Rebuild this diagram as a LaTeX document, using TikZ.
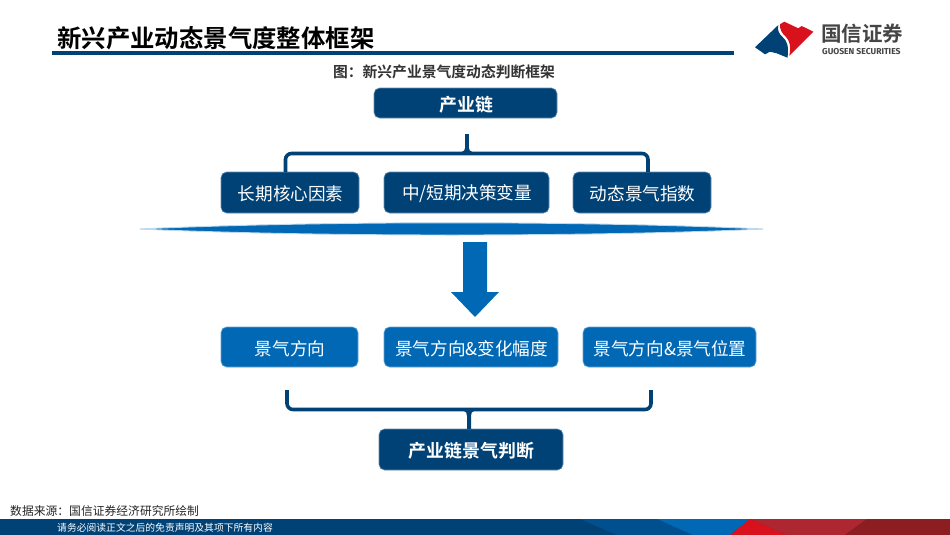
\documentclass[tikz,border=0pt]{standalone}
\usepackage{fontspec}
\setmainfont{Noto Sans CJK SC}[BoldFont={Noto Sans CJK SC Bold}]
\newfontfamily\logofont{Fira Sans}
\definecolor{navy}{HTML}{004276}
\definecolor{midblue}{HTML}{0068B5}
\definecolor{shadeblue}{HTML}{00508F}
\definecolor{logored}{HTML}{D9111C}
\definecolor{rosered}{HTML}{AE2630}
\definecolor{darkred}{HTML}{8C1E22}
\definecolor{logogray}{HTML}{454545}
\tikzset{
  px/.style={x=1pt,y=-1pt},
  boxbase/.style={rounded corners=5.5pt,text=white,inner sep=0pt,font=\fontsize{17.6pt}{20pt}\selectfont,draw=#1!60!white,line width=.6pt,fill=#1},
  navybox/.style={boxbase=navy},
  bluebox/.style={boxbase=midblue},
  boldtext/.style={font=\bfseries\fontsize{17.9pt}{20pt}\selectfont},
  brace/.style={draw=navy,line width=3.6pt,rounded corners=6pt},
  plain/.style={inner sep=0pt,anchor=west}
}
\newcommand{\bx}[7]{\node[#1,minimum width=#5pt-#4pt,minimum height=#7pt-#6pt] (#2) at ({(#4+#5)/2},{(#6+#7)/2}) {};
  \node[#1,text=white,inner sep=0pt,draw=none,fill=none,minimum width=0pt,minimum height=0pt] (#2t) at ({(#4+#5)/2+.6},{(#6+#7)/2+1.6}) {#3};}
\begin{document}
\begin{tikzpicture}[px]
\useasboundingbox (0,0) rectangle (950,535);
\fill[white] (0,0) rectangle (950,535);
% title
\node[plain,font=\bfseries\fontsize{24.4pt}{26pt}\selectfont,text=black] (title) at (57,38) {新兴产业动态景气度整体框架};
\fill[navy] (52,51) rectangle (734,55);
% logo
\fill[navy] (755,47.3) -- (778.3,25) .. controls (777,30) and (779,34) .. (783,37.5) .. controls (787,41) and (789,46) .. (787.5,57.7) -- (776.7,53.3) -- (770,51.7) -- (765,54.3) -- cycle;
\fill[logored] (780,24.3) -- (784.3,21.7) -- (798.3,28.3) -- (801.7,26) -- (813.3,31.7) -- (789.3,55.7) .. controls (791,47) and (790,41) .. (786,37) .. controls (782,33.5) and (779.5,29) .. (780,24.3) -- cycle;
\node[inner sep=0pt,anchor=west,text=logogray,font=\bfseries\fontsize{20.5pt}{22pt}\selectfont] (logocn) at (821,34) {国信证券};
\node[inner sep=0pt,anchor=west,text=logogray,font=\logofont\bfseries\fontsize{8.6pt}{10pt}\selectfont] (logoen) at (822,51.5) {GUOSEN SECURITIES};
% caption
\node[font=\bfseries\fontsize{14.8pt}{16pt}\selectfont,text=black!80,inner sep=0pt] (cap) at (444,71.5) {图：新兴产业景气度动态判断框架};
% boxes
\bx{navybox,boldtext}{chain}{产业链}{374}{557}{88}{118}
\bx{navybox}{a1}{长期核心因素}{221}{359}{172}{213}
\bx{navybox}{a2}{中/短期决策变量}{384}{549}{172}{213}
\bx{navybox}{a3}{动态景气指数}{573}{711}{172}{213}
\bx{bluebox}{b1}{景气方向}{221}{358}{327}{367}
\bx{bluebox}{b2}{景气方向\&变化幅度}{384}{558}{327}{367}
\bx{bluebox}{b3}{景气方向\&景气位置}{583}{756}{327}{367}
\bx{navybox,boldtext}{judge}{产业链景气判断}{379}{563}{429}{470}
% top brace
\coordinate (tl) at (285.5,172);
\coordinate (tr) at (648,172);
\path[brace] (tl) -- (285.5,153.5) -- (648,153.5) -- (tr);
\fill[navy] (465.2,134) -- (468.8,134) -- (469,148) .. controls (469.2,150) and (470,151.5) .. (472,151.8) -- (472,153) -- (462,153) -- (462,151.8) .. controls (464,151.5) and (464.8,150) .. (465,148) -- cycle;
% bottom brace
\coordinate (bl) at (287,390);
\coordinate (br) at (651,390);
\path[brace] (bl) -- (287,409.5) -- (651,409.5) -- (br);
\fill[navy] (467,429) -- (471,429) -- (471,416) .. controls (471,413) and (472,411.5) .. (474,411) -- (464,411) .. controls (466,411.5) and (467,413) .. (467,416) -- cycle;
% lens
\path[fill=midblue,draw=midblue!25,line width=.9pt] (140,229) .. controls (220,225.3) and (330,222.8) .. (452,222.8) .. controls (575,222.8) and (685,225.3) .. (763,229) .. controls (685,232.7) and (575,235) .. (452,235) .. controls (330,235) and (220,232.7) .. (140,229) -- cycle;
% arrow
\fill[midblue] (463,242) -- (487,242) -- (487,292) -- (499,292) -- (475,317) -- (451,292) -- (463,292) -- cycle;
% source
\node[plain,font=\fontsize{11.8pt}{14pt}\selectfont,text=black!85] (src) at (10,510.5) {数据来源：国信证券经济研究所绘制};
% footer band
\fill[navy] (0,519) rectangle (950,535);
\fill[shadeblue] (580,519) -- (657,519) -- (693,535) -- (617,535) -- cycle;
\fill[midblue] (657,519) -- (750,519) -- (730,535) -- (693,535) -- cycle;
\fill[rosered] (750,519) -- (867,519) -- (845,535) -- (787,535) -- cycle;
\fill[logored] (750,519) -- (730,535) -- (787,535) -- cycle;
\fill[darkred] (867,519) -- (950,519) -- (950,535) -- (845,535) -- cycle;
\node[plain,font=\fontsize{9.8pt}{11pt}\selectfont,text=white] (legal) at (57,527.5) {请务必阅读正文之后的免责声明及其项下所有内容};
\end{tikzpicture}
\end{document}
